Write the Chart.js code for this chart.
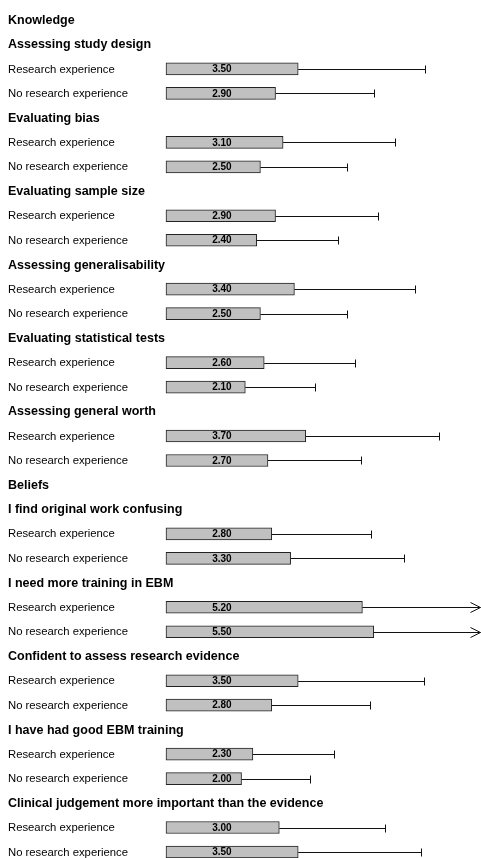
<!DOCTYPE html>
<html>
<head>
<meta charset="utf-8">
<script src="https://cdn.jsdelivr.net/npm/chart.js@4/dist/chart.umd.min.js"></script>
<style>
  html, body { margin: 0; padding: 0; background: #fff; }
  canvas { display: block; }
</style>
</head>
<body>
<canvas id="chart" width="481" height="858"></canvas>
<script>
// 섹션과 항목
const knowledgeItems = [
  'Assessing study design',
  'Evaluating bias',
  'Evaluating sample size',
  'Assessing generalisability',
  'Evaluating statistical tests',
  'Assessing general worth'
];
const beliefItems = [
  'I find original work confusing',
  'I need more training in EBM',
  'Confident to assess research evidence',
  'I have had good EBM training',
  'Clinical judgement more important than the evidence'
];
const groups = ['Research experience', 'No research experience'];

// 평균값 (knowledge 6개 + beliefs 5개)
const meanResearch   = [3.50, 3.10, 2.90, 3.40, 2.60, 3.70, 2.80, 5.20, 3.50, 2.30, 3.00];
const meanNoResearch = [2.90, 2.50, 2.40, 2.50, 2.10, 2.70, 3.30, 5.50, 2.80, 2.00, 3.50];
// 표준편차 (오른쪽 오차 막대)
const sdResearch     = [3.36, 2.95, 2.70, 3.18, 2.41, 3.54, 2.63, 3.50, 3.32, 2.15, 2.80];
const sdNoResearch   = [2.61, 2.29, 2.16, 2.29, 1.85, 2.47, 3.01, 3.30, 2.60, 1.81, 3.25];

const X_MAX = 8.34;
const VALUE_LABEL_POS = 1.48;

// 행 목록 만들기
const rows = [];
function addSection(title, items, offset) {
  rows.push({ label: title, header: true, value: null, sd: null });
  items.forEach((item, i) => {
    rows.push({ label: item, header: true, value: null, sd: null });
    rows.push({ label: groups[0], header: false, value: meanResearch[offset + i], sd: sdResearch[offset + i] });
    rows.push({ label: groups[1], header: false, value: meanNoResearch[offset + i], sd: sdNoResearch[offset + i] });
  });
}
addSection('Knowledge', knowledgeItems, 0);
addSection('Beliefs', beliefItems, knowledgeItems.length);

const FONT = '"Liberation Sans", Arial, sans-serif';

// 왼쪽 라벨 (축 잘림 방지 위해 직접 그림)
const rowLabelPlugin = {
  id: 'rowLabels',
  afterDraw(chart) {
    const ctx = chart.ctx;
    const yScale = chart.scales.y;
    ctx.save();
    ctx.fillStyle = '#000';
    ctx.textAlign = 'left';
    ctx.textBaseline = 'middle';
    rows.forEach((row, i) => {
      ctx.font = row.header ? 'bold 12.5px ' + FONT : '11.3px ' + FONT;
      ctx.fillText(row.label, 8, yScale.getPixelForTick(i) + 0.5);
    });
    ctx.restore();
  }
};

// 오차 막대 + 값 라벨
const errorBarPlugin = {
  id: 'errorBars',
  afterDatasetsDraw(chart) {
    const ctx = chart.ctx;
    const xScale = chart.scales.x;
    const meta = chart.getDatasetMeta(0);
    const right = chart.chartArea.right;
    ctx.save();
    ctx.strokeStyle = '#111';
    ctx.lineWidth = 1;
    rows.forEach((row, i) => {
      if (row.value === null) return;
      const bar = meta.data[i];
      const y = Math.round(bar.y) + 0.5;
      const x0 = bar.x;
      const upper = row.value + row.sd;
      ctx.beginPath();
      if (upper > xScale.max) {
        const tip = right - 0.5;
        ctx.moveTo(x0, y);
        ctx.lineTo(tip, y);
        ctx.moveTo(tip - 10, y - 5);
        ctx.lineTo(tip, y);
        ctx.lineTo(tip - 10, y + 5);
      } else {
        const xe = Math.round(xScale.getPixelForValue(upper)) + 0.5;
        ctx.moveTo(x0, y);
        ctx.lineTo(xe, y);
        ctx.moveTo(xe, y - 4);
        ctx.lineTo(xe, y + 4);
      }
      ctx.stroke();

      ctx.fillStyle = '#000';
      ctx.font = 'bold 10px ' + FONT;
      ctx.textAlign = 'center';
      ctx.textBaseline = 'middle';
      ctx.fillText(row.value.toFixed(2), xScale.getPixelForValue(VALUE_LABEL_POS), bar.y + 0.5);
    });
    ctx.restore();
  }
};

new Chart(document.getElementById('chart'), {
  type: 'bar',
  data: {
    labels: rows.map(r => r.label),
    datasets: [{
      data: rows.map(r => r.value),
      backgroundColor: '#c0c0c0',
      borderColor: '#222',
      borderWidth: 1,
      borderSkipped: false,
      barThickness: 12,
      clip: false
    }]
  },
  options: {
    indexAxis: 'y',
    responsive: false,
    animation: false,
    layout: { padding: { top: 20, bottom: 6, left: 8, right: 0 } },
    plugins: {
      legend: { display: false },
      tooltip: { enabled: false }
    },
    scales: {
      x: { type: 'linear', min: 0, max: X_MAX, display: false },
      y: {
        offset: false,
        grid: { display: false },
        border: { display: false },
        afterFit: (scale) => { scale.width = 158; },
        ticks: { display: false, autoSkip: false }
      }
    }
  },
  plugins: [errorBarPlugin, rowLabelPlugin]
});
</script>
</body>
</html>
